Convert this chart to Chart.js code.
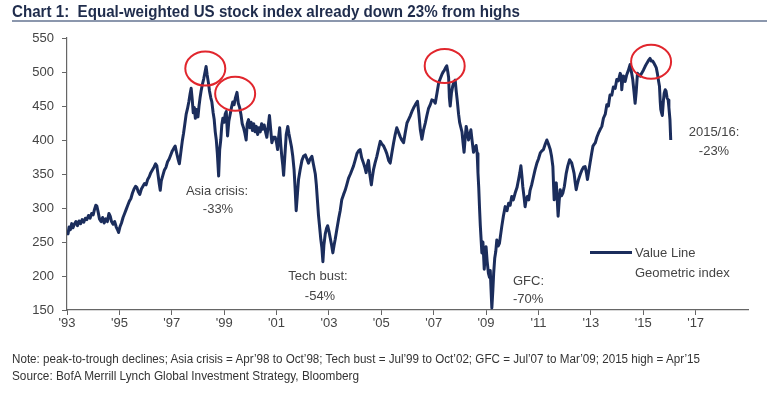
<!DOCTYPE html>
<html>
<head>
<meta charset="utf-8">
<script src="https://cdn.jsdelivr.net/npm/chart.js@4"></script>
<style>
  html, body { margin: 0; padding: 0; background: #fff; }
  #wrap { position: relative; width: 767px; height: 396px; overflow: hidden; font-family: "Liberation Sans", Arial, sans-serif; }
  #chart { position: absolute; left: 0; top: 0; }
  .t { position: absolute; white-space: nowrap; color: #444; font-size: 13px; line-height: 1; }
  .c { transform: translate(-50%, -50%); }
  .l { transform: translate(0, -50%); }
  #title { position: absolute; left: 12px; top: 2px; white-space: nowrap; font: bold 17px "Liberation Sans", Arial, sans-serif; color: #1f2c4c; transform-origin: left top; }
  #rule { position: absolute; left: 12px; right: 0; top: 20px; height: 2px; background: #8b97ad; }
  #legline { position: absolute; left: 590px; top: 251px; width: 42px; height: 3px; background: #1b2d5c; }
  .foot { position: absolute; left: 12px; white-space: nowrap; font: 12.5px "Liberation Sans", Arial, sans-serif; color: #333; transform-origin: left top; }
</style>
</head>
<body>
<div id="wrap">
  <canvas id="chart" width="767" height="396"></canvas>
  <div id="title" data-w="508">Chart 1:&nbsp; Equal-weighted US stock index already down 23% from highs</div>
  <div id="rule"></div>

  <div class="t c" style="left:217px; top:190px;">Asia crisis:</div>
  <div class="t c" style="left:218px; top:208px;">-33%</div>
  <div class="t c" style="left:318px; top:275px;">Tech bust:</div>
  <div class="t c" style="left:320px; top:295px;">-54%</div>
  <div class="t l" style="left:513px; top:280px;">GFC:</div>
  <div class="t l" style="left:513px; top:298px;">-70%</div>
  <div class="t c" style="left:714px; top:131px;">2015/16:</div>
  <div class="t c" style="left:714px; top:150px;">-23%</div>

  <div id="legline"></div>
  <div class="t l" style="left:635px; top:252px;">Value Line</div>
  <div class="t l" style="left:635px; top:272px;">Geometric index</div>

  <div class="foot" data-w="688" style="top:352px;">Note: peak-to-trough declines; Asia crisis = Apr’98 to Oct’98; Tech bust = Jul’99 to Oct’02; GFC = Jul’07 to Mar’09; 2015 high = Apr’15</div>
  <div class="foot" data-w="347" style="top:369px;">Source: BofA Merrill Lynch Global Investment Strategy, Bloomberg</div>
</div>

<script>
// Value Line Geometric index (decimal year / index level)
const dates = [
  1993.00,1993.04,1993.08,1993.13,1993.18,1993.23,1993.28,1993.34,1993.40,1993.46,1993.52,1993.58,1993.64,1993.70,1993.76,1993.82,1993.88,1993.94,
  1994.00,1994.05,1994.10,1994.14,1994.19,1994.24,1994.30,1994.36,1994.42,1994.48,1994.54,1994.60,1994.65,1994.70,1994.76,1994.82,1994.88,1994.93,1994.97,
  1995.02,1995.08,1995.14,1995.20,1995.26,1995.32,1995.38,1995.44,1995.50,1995.56,1995.62,1995.67,1995.72,1995.78,1995.84,1995.90,1995.96,
  1996.02,1996.08,1996.14,1996.20,1996.26,1996.32,1996.38,1996.43,1996.48,1996.52,1996.56,1996.60,1996.66,1996.72,1996.78,1996.84,1996.90,1996.96,
  1997.02,1997.08,1997.13,1997.18,1997.24,1997.29,1997.34,1997.40,1997.45,1997.50,1997.55,1997.60,1997.65,1997.70,1997.74,1997.78,1997.82,1997.86,1997.90,1997.94,
  1998.00,1998.04,1998.08,1998.12,1998.17,1998.22,1998.27,1998.31,1998.35,1998.40,1998.44,1998.49,1998.53,1998.58,1998.62,1998.66,1998.70,1998.74,1998.79,1998.83,1998.87,1998.91,1998.95,
  1999.00,1999.04,1999.08,1999.13,1999.18,1999.23,1999.28,1999.33,1999.38,1999.43,1999.49,1999.54,1999.59,1999.64,1999.69,1999.74,1999.79,1999.84,1999.88,1999.93,1999.98,
  2000.03,2000.08,2000.13,2000.18,2000.23,2000.28,2000.33,2000.38,2000.43,2000.48,2000.53,2000.58,2000.63,2000.68,2000.73,2000.78,2000.82,2000.88,2000.95,
  2001.00,2001.04,2001.08,2001.12,2001.16,2001.20,2001.24,2001.27,2001.32,2001.37,2001.43,2001.47,2001.52,2001.57,2001.62,2001.67,2001.71,2001.75,2001.80,2001.84,2001.90,2001.97,
  2002.03,2002.10,2002.16,2002.22,2002.28,2002.35,2002.41,2002.48,2002.52,2002.56,2002.60,2002.64,2002.69,2002.73,2002.77,2002.81,2002.86,2002.91,2002.95,
  2003.00,2003.05,2003.10,2003.15,2003.20,2003.24,2003.30,2003.37,2003.43,2003.49,2003.56,2003.62,2003.68,2003.75,2003.82,2003.88,2003.94,
  2004.00,2004.07,2004.13,2004.19,2004.25,2004.32,2004.37,2004.42,2004.47,2004.51,2004.56,2004.62,2004.66,2004.70,2004.76,2004.83,2004.90,2004.96,
  2005.02,2005.09,2005.15,2005.21,2005.28,2005.34,2005.40,2005.47,2005.53,2005.59,2005.65,2005.72,2005.78,2005.85,2005.91,2005.98,
  2006.04,2006.11,2006.17,2006.23,2006.30,2006.38,2006.43,2006.49,2006.55,2006.61,2006.68,2006.74,2006.80,2006.87,2006.93,
  2007.00,2007.06,2007.13,2007.19,2007.25,2007.31,2007.36,2007.40,2007.45,2007.50,2007.54,2007.57,2007.60,2007.63,2007.68,2007.73,2007.78,2007.82,2007.86,2007.90,2007.95,2007.99,
  2008.04,2008.08,2008.12,2008.16,2008.20,2008.24,2008.29,2008.33,2008.38,2008.42,2008.47,2008.52,2008.57,2008.62,2008.66,2008.69,2008.72,2008.75,2008.78,2008.84,2008.88,2008.93,2008.96,
  2009.00,2009.04,2009.09,2009.13,2009.16,2009.19,2009.22,2009.26,2009.29,2009.33,2009.37,2009.41,2009.46,2009.51,2009.56,2009.60,2009.66,2009.73,2009.80,2009.86,2009.92,2009.98,
  2010.04,2010.11,2010.18,2010.24,2010.29,2010.33,2010.37,2010.40,2010.45,2010.49,2010.54,2010.58,2010.63,2010.68,2010.74,2010.81,2010.87,2010.94,
  2011.00,2011.07,2011.13,2011.19,2011.26,2011.32,2011.38,2011.45,2011.50,2011.55,2011.58,2011.60,2011.64,2011.68,2011.72,2011.75,2011.79,2011.83,2011.88,2011.93,2011.99,
  2012.06,2012.12,2012.19,2012.24,2012.27,2012.32,2012.36,2012.40,2012.44,2012.49,2012.53,2012.60,2012.66,2012.72,2012.78,2012.83,2012.87,2012.92,2012.97,
  2013.03,2013.08,2013.13,2013.17,2013.23,2013.29,2013.35,2013.42,2013.48,2013.55,2013.61,2013.67,2013.73,2013.80,2013.86,2013.93,2013.99,
  2014.05,2014.12,2014.16,2014.18,2014.22,2014.25,2014.31,2014.37,2014.43,2014.50,2014.55,2014.60,2014.65,2014.69,2014.73,2014.78,2014.83,2014.88,2014.94,
  2015.01,2015.07,2015.14,2015.20,2015.26,2015.31,2015.36,2015.41,2015.45,2015.50,2015.54,2015.58,2015.62,2015.65,2015.67,2015.70,2015.73,2015.77,2015.80,2015.84,2015.87,2015.91,2015.95,2015.98,2016.02,2016.05
];
const values = [
  266,262,272,268,277,271,276,280,274,281,277,283,279,285,283,289,285,292,
  290,298,304,303,294,284,280,286,278,284,280,292,288,280,276,280,272,268,264,
  272,278,286,292,298,304,310,314,322,328,332,330,324,320,328,332,336,
  334,342,346,352,356,360,365,362,348,336,326,340,348,356,360,368,372,378,
  384,388,391,382,372,365,380,398,410,424,438,446,456,468,476,460,440,448,432,445,
  434,450,462,472,482,490,500,508,496,484,472,462,456,440,430,412,400,380,347,386,400,422,432,
  426,438,442,406,428,438,448,456,452,462,470,454,448,438,424,418,410,400,424,430,418,
  426,414,424,412,420,408,418,412,424,416,422,412,404,420,436,414,396,404,404,
  396,386,404,418,394,376,362,348,378,408,420,410,400,390,376,356,328,296,322,342,356,370,
  376,378,372,366,372,376,364,350,334,312,290,274,254,242,221,246,262,270,274,
  266,256,246,234,246,254,268,284,296,312,320,326,334,344,350,356,362,
  370,380,384,386,374,366,360,352,364,370,350,334,346,356,366,376,388,398,
  394,391,386,380,370,366,380,396,408,418,412,405,400,396,410,425,
  430,436,442,447,452,457,440,415,401,414,425,436,446,452,459,
  458,454,470,484,490,496,500,502,506,509,500,492,462,450,470,480,486,488,472,458,438,426,
  418,412,396,382,402,420,410,400,408,415,398,382,388,392,380,352,330,300,274,234,250,210,228,
  243,222,204,198,208,180,153,180,204,226,236,253,244,248,262,273,288,302,296,307,304,317,
  312,322,330,342,352,362,346,332,316,302,314,317,312,326,334,346,356,366,
  372,381,384,386,394,400,394,386,376,361,330,312,330,337,310,288,310,327,318,322,332,
  351,362,371,368,366,358,351,338,327,336,342,350,356,360,361,352,342,354,366,
  380,391,394,396,404,410,415,420,432,438,452,450,466,466,478,476,489,
  487,498,494,474,490,494,486,496,502,511,500,489,470,454,470,498,496,494,498,
  503,508,513,517,520,516,516,513,510,506,498,488,479,456,445,440,436,458,469,474,472,462,459,448,430,400
];

const xTickYears = [1993, 1995, 1997, 1999, 2001, 2003, 2005, 2007, 2009, 2011, 2013, 2015, 2017];
const yTicks = [150, 200, 250, 300, 350, 400, 450, 500, 550];

// circled highs (year, level)
const peakYears = [1998.28, 1999.42, 2007.42, 2015.30];
const peakLevels = [505, 468, 509, 515];

// squeeze the condensed-font texts to the reference widths
document.querySelectorAll('[data-w]').forEach(el => {
  const w = el.getBoundingClientRect().width;
  el.style.transform = 'scaleX(' + (parseFloat(el.dataset.w) / w) + ')';
});

const peakCircles = {
  id: 'peakCircles',
  afterDatasetsDraw(chart) {
    const { ctx, scales: { x, y } } = chart;
    ctx.save();
    ctx.strokeStyle = '#e1262d';
    ctx.lineWidth = 2;
    peakYears.forEach((yr, i) => {
      ctx.beginPath();
      ctx.ellipse(x.getPixelForValue(yr), y.getPixelForValue(peakLevels[i]), 20, 17, 0, 0, Math.PI * 2);
      ctx.stroke();
    });
    ctx.restore();
  }
};

const axisFont = { family: 'Liberation Sans', size: 13 };

new Chart(document.getElementById('chart').getContext('2d'), {
  type: 'line',
  data: {
    datasets: [{
      label: 'Value Line Geometric index',
      data: dates.map((d, i) => ({ x: d, y: values[i] })),
      borderColor: '#1b2d5c',
      borderWidth: 3,
      borderJoinStyle: 'round',
      pointRadius: 0,
      tension: 0,
      fill: false
    }]
  },
  options: {
    responsive: false,
    animation: false,
    layout: { padding: { top: 38, right: 19, bottom: 56, left: 0 } },
    plugins: { legend: { display: false }, tooltip: { enabled: false } },
    scales: {
      x: {
        type: 'linear',
        min: 1993,
        max: 2019,
        afterBuildTicks: s => { s.ticks = xTickYears.map(v => ({ value: v })); },
        afterFit: s => { s.height = 30; },
        grid: { drawOnChartArea: false, drawTicks: true, tickLength: 5, color: '#666' },
        border: { color: '#666', width: 1.2 },
        ticks: {
          autoSkip: false, maxRotation: 0, padding: 1, color: '#444', font: axisFont,
          callback: v => "'" + String(v).slice(2)
        }
      },
      y: {
        min: 150,
        max: 550,
        afterBuildTicks: s => { s.ticks = yTicks.map(v => ({ value: v })); },
        afterFit: s => { s.width = 67; },
        grid: { drawOnChartArea: false, drawTicks: true, tickLength: 5, color: '#666' },
        border: { color: '#666', width: 1.2 },
        ticks: { padding: 8, color: '#444', font: axisFont }
      }
    }
  },
  plugins: [peakCircles]
});
</script>
</body>
</html>
